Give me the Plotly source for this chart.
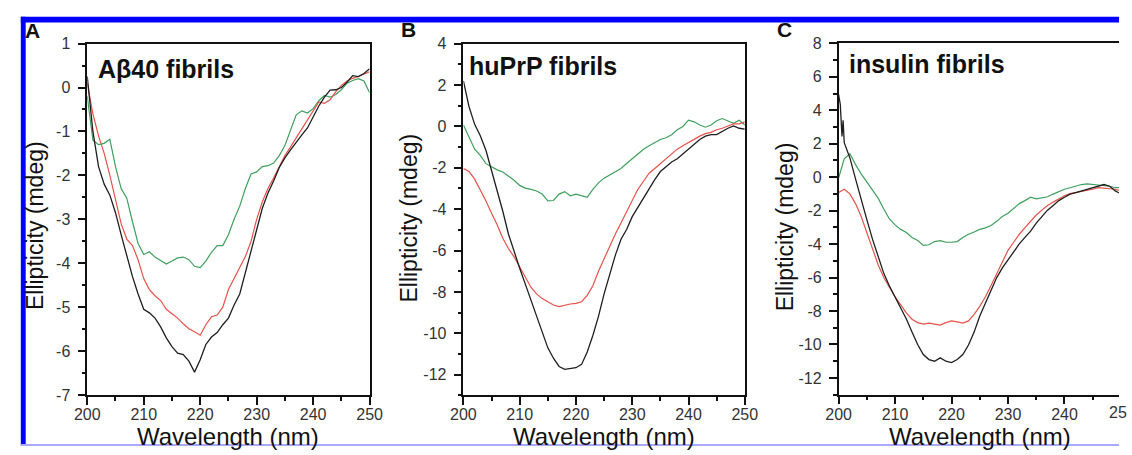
import plotly.graph_objects as go

# ---------------- data ----------------
WL = list(range(200, 251))

A_black = [0.25, -1.0, -1.8, -2.2, -2.45, -2.85, -3.35, -3.85, -4.3, -4.7,
           -5.05, -5.13, -5.25, -5.45, -5.7, -5.9, -6.05, -6.08, -6.23, -6.48,
           -6.2, -5.85, -5.68, -5.58, -5.4, -5.25, -4.95, -4.7, -4.2, -3.7,
           -3.2, -2.75, -2.4, -2.13, -1.82, -1.6, -1.42, -1.24, -1.08, -0.92,
           -0.67, -0.42, -0.22, -0.06, -0.05, 0.0, 0.12, 0.27, 0.25, 0.32, 0.43]
A_red = [0.1, -0.6, -1.1, -1.5, -2.0, -2.55, -3.1, -3.45, -3.6, -3.92,
         -4.35, -4.6, -4.74, -4.85, -5.05, -5.15, -5.25, -5.38, -5.49, -5.56,
         -5.64, -5.4, -5.22, -5.18, -5.0, -4.6, -4.36, -4.1, -3.85, -3.5,
         -3.0, -2.6, -2.3, -2.06, -1.8, -1.55, -1.35, -1.15, -0.95, -0.72,
         -0.52, -0.33, -0.36, -0.28, -0.1, 0.05, 0.15, 0.21, 0.25, 0.3, 0.36]
A_green = [-0.2, -1.2, -1.3, -1.27, -1.18, -1.8, -2.3, -2.52, -3.05, -3.55,
           -3.8, -3.74, -3.86, -3.95, -4.02, -3.95, -3.88, -3.86, -3.92, -4.07,
           -4.1, -3.95, -3.75, -3.6, -3.6, -3.35, -3.0, -2.7, -2.3, -1.97,
           -1.92, -1.8, -1.78, -1.72, -1.55, -1.32, -0.95, -0.62, -0.53, -0.58,
           -0.48, -0.3, -0.18, -0.22, -0.16, -0.05, 0.1, 0.16, 0.2, 0.15, -0.12]

B_black = [2.2, 0.95, 0.1, -0.45, -1.15, -2.1, -3.05, -4.1, -5.2, -6.05,
           -6.85, -7.62, -8.4, -9.18, -9.95, -10.7, -11.2, -11.6, -11.74, -11.7,
           -11.66, -11.5, -10.9, -10.1, -9.18, -8.09, -7.15, -6.22, -5.45, -4.98,
           -4.36, -3.9, -3.43, -2.96, -2.57, -2.18, -1.95, -1.72, -1.56, -1.33,
           -1.1, -0.86, -0.63, -0.47, -0.4, -0.4, -0.24, -0.09, 0.02, -0.09, -0.13]
B_red = [-2.03, -2.18, -2.55, -3.05, -3.6, -4.2, -4.75, -5.4, -5.9, -6.3,
         -6.8, -7.3, -7.77, -8.09, -8.32, -8.47, -8.63, -8.71, -8.63, -8.58,
         -8.55, -8.47, -8.16, -7.7, -7.0, -6.38, -5.76, -5.2, -4.67, -4.12,
         -3.58, -3.04, -2.65, -2.26, -2.03, -1.79, -1.56, -1.33, -1.1, -0.94,
         -0.78, -0.63, -0.47, -0.35, -0.29, -0.16, -0.09, 0.02, 0.12, 0.12, 0.22]
B_green = [0.07, -0.5, -1.1, -1.4, -1.8, -1.95, -2.1, -2.2, -2.4, -2.6,
           -2.85, -2.98, -3.04, -3.12, -3.27, -3.6, -3.58, -3.27, -3.15, -3.35,
           -3.27, -3.35, -3.43, -3.04, -2.73, -2.5, -2.34, -2.18, -2.03, -1.79,
           -1.56, -1.33, -1.1, -0.94, -0.78, -0.63, -0.55, -0.4, -0.16, 0.0,
           0.3, 0.22, 0.07, -0.04, 0.07, 0.27, 0.38, 0.27, 0.15, 0.3, 0.07]

C_black_wl = [200, 200.3, 200.6, 200.8] + list(range(201, 251))
C_black = [4.93, 4.36, 2.44, 3.4,
           2.06, 1.15, -0.1, -1.39, -2.54, -3.7, -4.66, -5.75, -6.5,
           -7.15, -7.8, -8.48, -9.25, -10.0, -10.6, -10.9, -11.0, -10.8, -11.0,
           -11.08, -10.9, -10.6, -10.03, -9.26, -8.3, -7.53, -6.76, -6.0, -5.42,
           -4.95, -4.47, -3.99, -3.6, -3.22, -2.74, -2.36, -1.97, -1.69, -1.4,
           -1.2, -1.01, -0.92, -0.82, -0.73, -0.63, -0.54, -0.44, -0.54, -0.82, -1.0]
C_red = [-0.91, -0.72, -1.0, -1.58, -2.35, -3.3, -4.27, -5.23, -6.0, -6.57,
         -7.15, -7.63, -8.11, -8.49, -8.69, -8.78, -8.72, -8.78, -8.84, -8.69,
         -8.59, -8.65, -8.72, -8.59, -8.2, -7.72, -7.15, -6.47, -5.8, -5.04,
         -4.37, -3.89, -3.41, -3.02, -2.64, -2.26, -1.97, -1.69, -1.49, -1.3,
         -1.11, -0.98, -0.92, -0.82, -0.78, -0.72, -0.63, -0.67, -0.72, -0.72, -0.82]
C_green = [-0.05, 1.1, 1.4, 0.75, 0.2, -0.3, -0.75, -1.25, -1.9, -2.5,
           -2.85, -3.12, -3.31, -3.6, -3.79, -4.08, -4.04, -3.85, -3.79, -3.89,
           -3.89, -3.85, -3.6, -3.41, -3.28, -3.12, -3.03, -2.89, -2.64, -2.35,
           -2.16, -1.87, -1.58, -1.4, -1.2, -1.3, -1.24, -1.17, -1.01, -0.86,
           -0.72, -0.63, -0.54, -0.44, -0.4, -0.44, -0.44, -0.48, -0.54, -0.63, -0.63]

X_TICKS = [200, 210, 220, 230, 240, 250]
X_TICKTEXT = ["200", "210", "220", "230", "240", "250"]
A_YTICKS = [1, 0, -1, -2, -3, -4, -5, -6, -7]
A_YTICKTEXT = ["1", "0", "-1", "-2", "-3", "-4", "-5", "-6", "-7"]
B_YTICKS = [4, 2, 0, -2, -4, -6, -8, -10, -12]
B_YTICKTEXT = ["4", "2", "0", "-2", "-4", "-6", "-8", "-10", "-12"]
C_YTICKS = [8, 6, 4, 2, 0, -2, -4, -6, -8, -10, -12]
C_YTICKTEXT = ["8", "6", "4", "2", "0", "-2", "-4", "-6", "-8", "-10", "-12"]

PANEL_TITLES = ["A\u03b240 fibrils", "huPrP fibrils", "insulin fibrils"]
PANEL_LETTERS = ["A", "B", "C"]
X_TITLE = "Wavelength (nm)"
Y_TITLE = "Ellipticity (mdeg)"

# ---------------- layout helpers ----------------
W, H = 1132, 455
FONT = "Arial, 'Liberation Sans', sans-serif"
BLACK, RED, GREEN = "#1e1e1e", "#e5524a", "#3f9f5e"


def px(p):
    return p / W


def py(p):
    return 1 - p / H


fig = go.Figure()

panels = [
    ("x", "y", WL, A_black, WL, A_red, WL, A_green),
    ("x2", "y2", WL, B_black, WL, B_red, WL, B_green),
    ("x3", "y3", C_black_wl, C_black, WL, C_red, WL, C_green),
]
for xa, ya, xb, yb, xr, yr, xg, yg in panels:
    fig.add_trace(go.Scatter(x=xg, y=yg, mode="lines", line=dict(color=GREEN, width=1.2),
                             xaxis=xa, yaxis=ya, showlegend=False))
    fig.add_trace(go.Scatter(x=xr, y=yr, mode="lines", line=dict(color=RED, width=1.2),
                             xaxis=xa, yaxis=ya, showlegend=False))
    fig.add_trace(go.Scatter(x=xb, y=yb, mode="lines", line=dict(color=BLACK, width=1.3),
                             xaxis=xa, yaxis=ya, showlegend=False))

tickfont = dict(family=FONT, size=16, color="#333333")


def xaxis(domain, rng, anchor, mirror=True):
    return dict(domain=domain, range=rng, anchor=anchor, tickmode="array",
                tickvals=X_TICKS, ticktext=X_TICKTEXT, ticks="outside", ticklen=8,
                ticklabelstandoff=-4,
                tickwidth=1.5, tickcolor="#111", showline=True, linecolor="#111", linewidth=1.5,
                mirror=mirror, showgrid=False, zeroline=False, tickfont=tickfont,
                minor=dict(ticks="outside", ticklen=4, tickwidth=1.5, tickcolor="#111", dtick=5,
                           tick0=200, showgrid=False))


def yaxis(domain, rng, tv, tt, mdtick, anchor, mirror=True):
    return dict(domain=domain, range=rng, tickmode="array", tickvals=tv, ticktext=tt,
                ticks="outside", ticklen=8, ticklabelstandoff=4,
                tickwidth=1.5, tickcolor="#111", showline=True, linecolor="#111", linewidth=1.5,
                mirror=mirror, showgrid=False, zeroline=False, tickfont=tickfont, anchor=anchor,
                minor=dict(ticks="outside", ticklen=4, tickwidth=1.5, tickcolor="#111",
                           dtick=mdtick, tick0=0, showgrid=False))


c_right = 200 + 50 * (W - 845) / 289.0

fig.update_layout(
    width=W, height=H, margin=dict(l=0, r=0, t=0, b=0),
    paper_bgcolor="white", plot_bgcolor="white",
    xaxis=xaxis([px(76), px(365)], [200, 250], "y"),
    yaxis=yaxis([py(402), py(37)], [-7, 1], A_YTICKS, A_YTICKTEXT, 0.5, "x"),
    xaxis2=xaxis([px(461), px(749)], [200, 250], "y2"),
    yaxis2=yaxis([py(402.5), py(37)], [-13, 4], B_YTICKS, B_YTICKTEXT, 1, "x2"),
    xaxis3=xaxis([px(845), 1.0], [200, c_right], "y3"),
    yaxis3=yaxis([py(401.7), py(36.7)], [-13, 8], C_YTICKS, C_YTICKTEXT, 1, "x3", mirror=False),
    font=dict(family=FONT),
)

ann = []
# panel titles
for (x0, y0), t in zip([(85, 63), (465, 60), (854, 58)], PANEL_TITLES):
    ann.append(dict(x=px(x0), y=py(y0), xref="paper", yref="paper", text="<b>%s</b>" % t,
                    showarrow=False, xanchor="left", yanchor="middle",
                    font=dict(family=FONT, size=25, color="#111")))
# panel letters
for (x0, y0), t in zip([(20, 23), (405, 22), (790, 22)], PANEL_LETTERS):
    ann.append(dict(x=px(x0), y=py(y0), xref="paper", yref="paper", text="<b>%s</b>" % t,
                    showarrow=False, xanchor="center", yanchor="middle",
                    font=dict(family=FONT, size=21, color="#111")))
# x titles
for x0 in [220.5, 605, 989.5]:
    ann.append(dict(x=px(x0), y=py(445), xref="paper", yref="paper", text=X_TITLE,
                    showarrow=False, xanchor="center", yanchor="middle",
                    font=dict(family=FONT, size=24, color="#111")))
# y titles
for x0, y0 in [(22, 226), (405, 218), (790, 227)]:
    ann.append(dict(x=px(x0), y=py(y0), xref="paper", yref="paper", text=Y_TITLE,
                    showarrow=False, xanchor="center", yanchor="middle", textangle=-90,
                    font=dict(family=FONT, size=23, color="#111")))
# the 250 label of panel C, clipped by the right edge as in the reference
ann.append(dict(x=px(1120), y=py(420), xref="paper", yref="paper", text="25",
                showarrow=False, xanchor="left", yanchor="middle", font=tickfont))
fig.update_layout(annotations=ann)

shapes = [
    dict(type="rect", xref="paper", yref="paper", x0=px(8), x1=1.0, y0=py(15), y1=py(9),
         fillcolor="#0000ff", line=dict(width=0), layer="above"),
    dict(type="rect", xref="paper", yref="paper", x0=px(8), x1=px(13), y0=0, y1=py(9),
         fillcolor="#0000ff", line=dict(width=0), layer="above"),
    dict(type="rect", xref="paper", yref="paper", x0=px(8), x1=1.0, y0=0, y1=py(453),
         fillcolor="#a8a8ff", line=dict(width=0), layer="above"),
]
fig.update_layout(shapes=shapes)

fig.write_html("out.html", config={"displayModeBar": False},
               post_script="document.body.style.margin='0';document.body.style.overflow='hidden';")
